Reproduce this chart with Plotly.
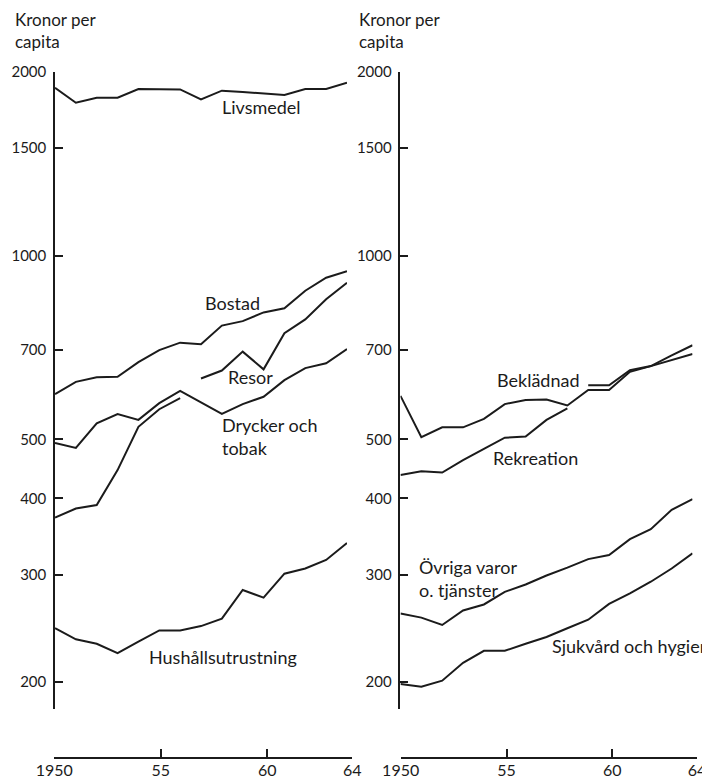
import numpy as np
import plotly.graph_objects as go

INK = "#1b1b1b"
FONT = "Lato, 'Open Sans', sans-serif"

years = list(range(1950, 1965))

# Vänster panel (kronor per capita)
livsmedel = [1885, 1781, 1815, 1815, 1876, 1876, 1873, 1804, 1864, 1854, 1844, 1834, 1876, 1876, 1921]
bostad = [593, 621, 632, 633, 669, 700, 720, 716, 768, 781, 807, 820, 876, 920, 943]
drycker_tobak = [493, 484, 531, 550, 538, 573, 600, 574, 550, 571, 587, 625, 654, 666, 703]
hushall = [245, 235, 231, 223, 233, 243, 243, 247, 254, 283, 275, 301, 307, 317, 338]
# Resor: serien bryts 1956/57
resor_years_a = list(range(1950, 1957))
resor_a = [372, 385, 390, 445, 524, 560, 584]
resor_years_b = list(range(1957, 1965))
resor_b = [629, 648, 696, 651, 746, 786, 848, 903]

# Höger panel
bekladnad = [589, 504, 523, 523, 540, 571, 580, 581, 568, 602, 602, 645, 659, 674, 690]
ovriga = [259, 255, 248, 262, 268, 281, 289, 299, 308, 318, 323, 343, 356, 383, 399]
sjukvard = [198.5, 196.5, 201, 215, 225, 225, 231, 237, 245, 253, 268.5, 279.5, 292, 307, 325]
# Rekreation: serien bryts 1958/59
rekr_years_a = list(range(1950, 1959))
rekr_a = [437, 443, 441, 462, 482, 503, 505, 538, 562]
rekr_years_b = list(range(1959, 1965))
rekr_b = [613, 613, 649, 659, 686, 713]

ytick_vals = [200, 300, 400, 500, 700, 1000, 1500, 2000]
xtick_vals = [1950, 1955, 1960, 1964]
xtick_text = ["1950", "55", "60", "64"]

fig = go.Figure()


def add_line(x, y, xa, ya):
    fig.add_trace(go.Scatter(
        x=x, y=y, xaxis=xa, yaxis=ya, mode="lines",
        line=dict(color=INK, width=2), showlegend=False, hoverinfo="skip"))


for serie in (livsmedel, bostad, drycker_tobak, hushall):
    add_line(years, serie, "x", "y")
add_line(resor_years_a, resor_a, "x", "y")
add_line(resor_years_b, resor_b, "x", "y")

for serie in (bekladnad, ovriga, sjukvard):
    add_line(years, serie, "x2", "y2")
add_line(rekr_years_a, rekr_a, "x2", "y2")
add_line(rekr_years_b, rekr_b, "x2", "y2")

# tomma spår så att de fristående årsaxlarna ritas
fig.add_trace(go.Scatter(x=[], y=[], xaxis="x3", yaxis="y", showlegend=False))
fig.add_trace(go.Scatter(x=[], y=[], xaxis="x4", yaxis="y2", showlegend=False))

y_dom = [0.0714, 1]
y_rng = [np.log10(180.6), np.log10(2000)]

yax = dict(
    type="log", range=y_rng, domain=y_dom,
    tickvals=ytick_vals, ticktext=[str(v) for v in ytick_vals],
    ticks="inside", ticklen=8, tickwidth=1.5, tickcolor=INK,
    showline=True, linecolor=INK, linewidth=1.5,
    showgrid=False, zeroline=False, automargin=False,
    tickfont=dict(size=15, color=INK), ticklabelstandoff=4,
)
data_x = dict(range=[1950, 1964], visible=False, showgrid=False, automargin=False)
tick_x = dict(
    range=[1950, 1964], anchor="free", position=0,
    tickvals=xtick_vals, ticktext=xtick_text,
    ticks="inside", ticklen=8, tickwidth=1.5, tickcolor=INK,
    showline=True, linecolor=INK, linewidth=1.5,
    showgrid=False, zeroline=False, automargin=False,
    tickfont=dict(size=16, color=INK), ticklabelstandoff=-2,
)

# sidan har 8 px marginal i webbläsaren, därför 702x771
fig.update_layout(
    width=702, height=771,
    margin=dict(l=42, r=10, t=64, b=21),
    paper_bgcolor="white", plot_bgcolor="rgba(0,0,0,0)",
    font=dict(family=FONT, color=INK),
    showlegend=False,
    xaxis=dict(domain=[0.0077, 0.4569], **data_x),
    xaxis2=dict(domain=[0.5392, 0.9885], **data_x),
    xaxis3=dict(domain=[0.0066, 0.4651], **tick_x),
    xaxis4=dict(domain=[0.5395, 0.9954], **tick_x),
    yaxis=dict(anchor="x", **yax),
    yaxis2=dict(anchor="x2", **yax),
)

labels = [
    # text, xref, yref, x, log10(y)
    ("Livsmedel", "x", "y", 1957.91, 3.2437),
    ("Bostad", "x", "y", 1957.09, 2.9223),
    ("Resor", "x", "y", 1958.20, 2.8010),
    ("Drycker och<br>tobak", "x", "y", 1957.91, 2.7027),
    ("Hushållsutrustning", "x", "y", 1954.41, 2.3420),
    ("Beklädnad", "x2", "y2", 1954.53, 2.7961),
    ("Rekreation", "x2", "y2", 1954.34, 2.6682),
    ("Övriga varor<br>o. tjänster", "x2", "y2", 1950.79, 2.4707),
    ("Sjukvård och hygien", "x2", "y2", 1957.17, 2.3601),
]
for text, xr, yr, x, y in labels:
    fig.add_annotation(text=text, xref=xr, yref=yr, x=x, y=y,
                       xanchor="left", yanchor="middle", align="left",
                       showarrow=False, font=dict(size=18, color=INK))

for xp in (-0.0569, 0.4723):
    fig.add_annotation(text="Kronor per<br>capita", xref="paper", yref="paper",
                       x=xp, y=1.0598, xanchor="left", yanchor="middle", align="left",
                       showarrow=False, font=dict(size=17, color=INK))

fig.write_html("out.html")
